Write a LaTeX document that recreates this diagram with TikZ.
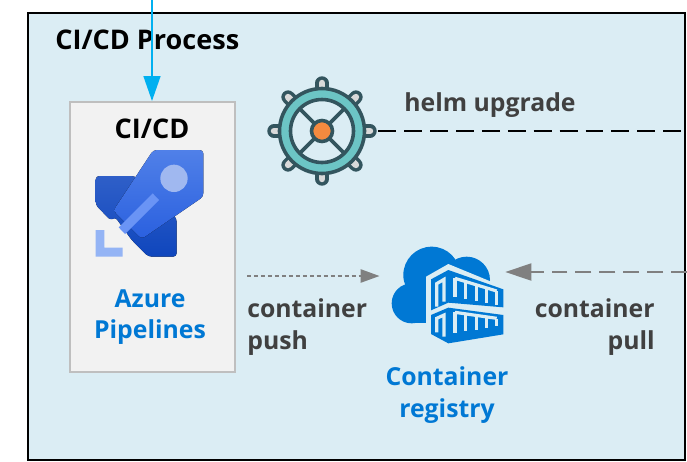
\documentclass[tikz,border=0pt]{standalone}
\usepackage{fontspec}
\setmainfont{Open Sans}
\usetikzlibrary{arrows.meta,positioning}
\definecolor{panelbg}{HTML}{DBEDF4}
\definecolor{azureblue}{HTML}{0078D4}
\definecolor{helmdark}{HTML}{33555E}
\definecolor{helmteal}{HTML}{6CC5C5}
\definecolor{helmorange}{HTML}{F58A3F}
\definecolor{captiongray}{HTML}{404040}
\definecolor{entryblue}{HTML}{00B0F0}
\definecolor{tailtop}{HTML}{2F5FC8}
\definecolor{tailbot}{HTML}{0F46BD}
\definecolor{bodytop}{HTML}{5080E8}
\definecolor{bodybot}{HTML}{2A60DF}
\definecolor{portcol}{HTML}{A0B8F0}
\definecolor{barcol}{HTML}{6A94F5}
\definecolor{cornercol}{HTML}{94B4F5}
\tikzset{
	panelbox/.style={draw=black,line width=2.2*0.5669pt,fill=panelbg},
	toolbox/.style={draw=black!25,line width=2*0.5669pt,fill=black!5,minimum width=165*0.02cm,minimum height=270*0.02cm,inner sep=0pt},
	boldtext/.style={font=\bfseries\fontsize{14.1}{18}\selectfont,inner sep=0pt},
	headtext/.style={font=\bfseries\fontsize{15.4}{18}\selectfont,inner sep=0pt},
	azuretext/.style={boldtext,text=azureblue,align=center},
	graytext/.style={boldtext,text=captiongray},
	slat/.style={panelbg,line width=3.2*0.5669pt},
	helmline/.style={helmdark,line width=3.6*0.5669pt},
}
\begin{document}
\begin{tikzpicture}[x=0.02cm,y=-0.02cm]
	\useasboundingbox(0,0)rectangle(687,461);
	\fill[white](0,0)rectangle(687,461);
	\node[panelbox,minimum width=657*0.02cm,minimum height=447*0.02cm,inner sep=0pt,anchor=north west](panel)at(27,12){};
	\node[headtext,anchor=west](title)at(55,39.5){CI/CD Process};
	\node[toolbox,anchor=north west](cicd)at(69,101){};
	\node[headtext,text=black](cicdlabel)at(152,128.5){CI/CD};
	\node[azuretext](pipelines)at(150,317){Azure\\Pipelines};
	% pipelines icon
	\begin{scope}[shift={(60,90)},scale=1/3]
		\fill[top color=tailtop,bottom color=tailbot,rounded corners=2pt](107,258)--(225,258)--(350,385)--(350,500)--(265,500)--(215,450)--(165,380)--(153,392)--(107,345)--cycle;
		\fill[top color=bodytop,bottom color=bodybot,rounded corners=2pt](280,180)--(430,180)--(430,320)--(245,447)--(160,362)--cycle;
		\fill[portcol](342,265)circle(41);
		\fill[barcol](278,310)--(297,330)--(195,432)--(176,412)--cycle;
		\fill[cornercol](107,420)--(133,420)--(133,473)--(188,473)--(188,500)--(107,500)--cycle;
	\end{scope}
	% helm wheel
	\node[circle,minimum size=110*0.02cm,inner sep=0pt](helm)at(322,131){};
	\begin{scope}[shift={(helm.center)}]
		\foreach \a in {0,45,...,315}{
			\draw[helmdark,line width=13.5*0.5669pt,line cap=round](\a:40)--(\a:48);
			\draw[black!15,line width=6.5*0.5669pt,line cap=round](\a:40)--(\a:48);
		}
		\draw[helmteal,line width=11*0.5669pt,fill=panelbg](0,0)circle(37);
		\draw[helmline](0,0)circle(42.5);
		\draw[helmline](0,0)circle(31.5);
		\foreach \a in {45,135,225,315}
			\draw[helmline](0,0)--(\a:31.5);
		\fill[helmorange,draw=helmdark,line width=3.6*0.5669pt](0,0)circle(10.5);
	\end{scope}
	% registry icon
	\node[minimum width=125*0.02cm,minimum height=100*0.02cm,inner sep=0pt](registry)at(442.5,276){};
	\begin{scope}[shift={(370,235)},scale=1/3]
		\fill[azureblue](125,205)circle(60);
		\fill[azureblue](185,120)circle(85);
		\fill[azureblue](290,135)circle(70);
		\fill[azureblue](125,265)rectangle(340,140);
		\fill[panelbg](168,125)--(235,87)--(400,155)--(400,305)--(235,340)--(168,305)--cycle;
		\fill[azureblue](183,133)--(235,105)--(400,163)--(400,217)--(235,203)--(183,226)--cycle;
		\fill[azureblue](183,240)--(235,218)--(400,240)--(400,298)--(235,325)--(183,297)--cycle;
		% container slats
		\draw[slat](255,130)--(380,168);
		\draw[slat](255,232)--(380,250);
		\foreach \x [evaluate=\x as \t using 130+(\x-255)*0.3,evaluate=\x as \b using 185+(\x-255)*0.2,evaluate=\x as \u using 232+(\x-255)*0.15,evaluate=\x as \v using 294-(\x-255)*0.16] in {255,287,320,350,380}{
			\draw[slat](\x,\t)--(\x,\b);
			\draw[slat](\x,\u)--(\x,\v);
		}
		\draw[slat](200,215)--(200,146)--(222,133)--(222,200);
		\draw[slat](200,292)--(200,250)--(222,240)--(222,305);
	\end{scope}
	\node[azuretext](regname)at(447,395){Container\\registry};
	\node[graytext,anchor=west](helmup)at(404,105.5){helm upgrade};
	\node[graytext,align=left,anchor=west](pushtext)at(247,327){container\\push};
	\node[graytext,align=right,anchor=east](pulltext)at(655,327){container\\pull};
	% connectors
	\coordinate(entry)at(152,0);
	\coordinate(helmout)at(684,131);
	\coordinate(pushfrom)at(247,276);
	\coordinate(pullfrom)at(687,272);
	\draw[draw=entryblue,line width=1.5*0.5669pt,-{Triangle[length=25*0.02cm,width=17*0.02cm]}](entry)--(cicd.north -| entry);
	\draw[black,line width=2*0.5669pt,dash pattern=on 18*0.5669pt off 8*0.5669pt](helm.east)++(1,0)--(helmout);
	\draw[black!50,line width=2.4*0.5669pt,dash pattern=on 4*0.5669pt off 3*0.5669pt,-{Triangle[length=19*0.02cm,width=13*0.02cm]}](pushfrom)--(registry.west);
	\draw[black!50,line width=2*0.5669pt,dash pattern=on 16*0.5669pt off 8*0.5669pt,-{Triangle[length=26*0.02cm,width=17*0.02cm]}](pullfrom)--(pullfrom -| registry.east);
\end{tikzpicture}
\end{document}
